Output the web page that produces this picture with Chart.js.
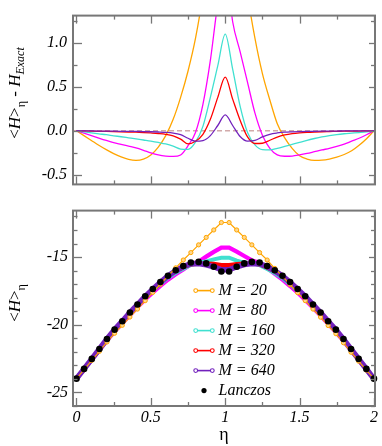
<!DOCTYPE html>
<html><head><meta charset="utf-8">
<script src="https://cdn.jsdelivr.net/npm/chart.js@4.4.0/dist/chart.umd.min.js"></script>
<style>
html,body{margin:0;padding:0;background:#fff;}
#wrap{position:relative;width:382px;height:446px;overflow:hidden;background:#fff;}
#c1{position:absolute;left:0;top:0;}
#c2{position:absolute;left:0;top:196px;}
</style></head><body>
<div id="wrap">
<canvas id="c1" width="382" height="200" style="width:382px;height:200px"></canvas>
<canvas id="c2" width="382" height="250" style="width:382px;height:250px"></canvas>
</div>
<script>
// ---------- data ----------
const seriesLabels = ['M = 20', 'M = 80', 'M = 160', 'M = 320', 'M = 640'];
const lanczosLabel = 'Lanczos';

// top panel: <H>_eta - H_exact
const etaTop = [0,0.05,0.1,0.15,0.2,0.25,0.3,0.35,0.4,0.45,0.5,0.55,0.6,0.65,0.7,0.75,0.8,0.85,0.9,0.95,1.0,
  1.05,1.1,1.15,1.2,1.25,1.3,1.35,1.4,1.45,1.5,1.55,1.6,1.65,1.7,1.75,1.8,1.85,1.9,1.95,2.0];
const diffM20 = [0,-0.055,-0.11,-0.165,-0.215,-0.26,-0.297,-0.325,-0.336,-0.322,-0.275,-0.185,-0.055,0.13,0.38,0.68,1.05,1.55,2.2,3.0,3.7,
  3.0,2.2,1.55,1.05,0.65,0.35,0.08,-0.08,-0.2,-0.285,-0.322,-0.337,-0.335,-0.322,-0.3,-0.27,-0.228,-0.165,-0.09,0];
const diffM80 = [0,-0.028,-0.055,-0.083,-0.11,-0.135,-0.155,-0.175,-0.195,-0.222,-0.252,-0.275,-0.288,-0.292,-0.275,-0.17,-0.02,0.3,0.8,1.45,1.9,
  1.24,0.9,0.55,0.2,-0.05,-0.2,-0.275,-0.29,-0.288,-0.275,-0.258,-0.238,-0.218,-0.2,-0.178,-0.152,-0.118,-0.085,-0.045,0];
const diffM160 = [0,-0.012,-0.024,-0.035,-0.045,-0.057,-0.068,-0.08,-0.092,-0.105,-0.118,-0.133,-0.15,-0.175,-0.208,-0.212,-0.13,0.05,0.38,0.74,1.1,
  0.7,0.28,-0.02,-0.16,-0.215,-0.218,-0.2,-0.178,-0.155,-0.132,-0.108,-0.088,-0.07,-0.055,-0.043,-0.034,-0.027,-0.02,-0.012,0];
const diffM320 = [0,-0.002,-0.004,-0.006,-0.008,-0.01,-0.012,-0.014,-0.016,-0.02,-0.025,-0.031,-0.04,-0.058,-0.095,-0.15,-0.12,-0.04,0.13,0.38,0.61,
  0.36,0.12,-0.07,-0.145,-0.142,-0.108,-0.072,-0.048,-0.033,-0.024,-0.018,-0.014,-0.011,-0.009,-0.007,-0.005,-0.004,-0.003,-0.001,0];
const diffM640 = [0,-0.001,-0.002,-0.003,-0.004,-0.005,-0.006,-0.007,-0.008,-0.009,-0.011,-0.014,-0.018,-0.026,-0.045,-0.085,-0.118,-0.112,-0.055,0.06,0.18,
  0.06,-0.065,-0.118,-0.11,-0.07,-0.04,-0.025,-0.016,-0.012,-0.009,-0.007,-0.006,-0.005,-0.004,-0.003,-0.002,-0.002,-0.001,-0.001,0];

// bottom panel: <H>_eta
const etaBot = [0,0.051,0.103,0.154,0.205,0.256,0.308,0.359,0.41,0.462,0.513,0.564,0.615,0.667,0.718,0.769,0.821,0.872,0.923,0.974,
  1.026,1.077,1.128,1.179,1.231,1.282,1.333,1.385,1.436,1.487,1.538,1.59,1.641,1.692,1.744,1.795,1.846,1.897,1.949,2];
const lanczos = [-23.98,-23.26,-22.52,-21.79,-21.05,-20.36,-19.74,-19.10,-18.50,-17.90,-17.36,-16.85,-16.38,-15.98,-15.66,-15.40,-15.36,-15.47,-15.72,-16.07,
  -16.07,-15.72,-15.47,-15.36,-15.40,-15.66,-15.98,-16.38,-16.85,-17.36,-17.90,-18.50,-19.10,-19.74,-20.36,-21.05,-21.79,-22.52,-23.26,-23.98];
const botM20 = [-23.98,-23.32,-22.63,-21.96,-21.27,-20.63,-20.04,-19.43,-18.84,-18.22,-17.61,-17.01,-16.40,-15.80,-15.22,-14.67,-14.10,-13.55,-13.00,-12.45,
  -12.45,-13.00,-13.55,-14.10,-14.67,-15.22,-15.84,-16.42,-17.03,-17.63,-18.22,-18.84,-19.44,-20.06,-20.66,-21.33,-22.03,-22.69,-23.35,-23.98];
const botM80 = [-23.98,-23.29,-22.58,-21.88,-21.16,-20.50,-19.90,-19.28,-18.70,-18.13,-17.62,-17.13,-16.67,-16.27,-15.92,-15.53,-15.34,-14.97,-14.62,-14.30,
  -14.30,-14.60,-14.92,-15.25,-15.42,-15.82,-16.24,-16.67,-17.14,-17.64,-18.16,-18.74,-19.32,-19.94,-20.54,-21.20,-21.90,-22.60,-23.30,-23.98];
const botM160 = [-23.98,-23.27,-22.54,-21.83,-21.10,-20.42,-19.81,-19.18,-18.59,-18.00,-17.48,-16.98,-16.53,-16.16,-15.87,-15.59,-15.41,-15.32,-15.17,-15.05,
  -15.05,-15.27,-15.41,-15.46,-15.60,-15.88,-16.18,-16.56,-17.00,-17.50,-18.01,-18.59,-19.17,-19.79,-20.40,-21.08,-21.81,-22.54,-23.27,-23.98];
const botM320 = [-23.98,-23.26,-22.53,-21.80,-21.06,-20.37,-19.75,-19.12,-18.52,-17.92,-17.39,-16.88,-16.42,-16.04,-15.76,-15.55,-15.49,-15.47,-15.50,-15.59,
  -15.59,-15.52,-15.47,-15.48,-15.55,-15.78,-16.06,-16.43,-16.89,-17.39,-17.92,-18.51,-19.11,-19.75,-20.37,-21.06,-21.80,-22.53,-23.26,-23.98];
const botM640 = [-23.98,-23.26,-22.52,-21.79,-21.05,-20.36,-19.74,-19.10,-18.51,-17.91,-17.37,-16.86,-16.40,-16.01,-15.70,-15.49,-15.48,-15.57,-15.72,-15.94,
  -15.94,-15.72,-15.56,-15.48,-15.49,-15.70,-16.01,-16.40,-16.86,-17.37,-17.91,-18.51,-19.11,-19.75,-20.37,-21.06,-21.80,-22.53,-23.27,-23.99];

// ticks
const xTickValues = [0, 0.5, 1, 1.5, 2];
const xTickLabels = ['0', '0.5', '1', '1.5', '2'];
const xMinorTicks = [0.25, 0.75, 1.25, 1.75];
const topTickValues = [-0.5, 0, 0.5, 1.0];
const topTickLabels = ['-0.5', '0.0', '0.5', '1.0'];
const topMinorTicks = [-0.25, 0.25, 0.75, 1.25];
const botTickValues = [-25, -20, -15];
const botTickLabels = ['-25', '-20', '-15'];
const botMinorTicks = [-26, -24, -23, -22, -21, -19, -18, -17, -16, -14, -13, -12];

// axis ranges
const xMin = -0.0235, xMax = 2.007;
const topYMin = -0.61, topYMax = 1.31;
const botYMin = -26, botYMax = -11.57;

// ---------- styling ----------
const SERIF = "'Liberation Serif','Times New Roman',serif";
const colors = ['rgb(255,165,0)', 'rgb(255,0,255)', 'rgb(64,224,208)', 'rgb(255,0,0)', 'rgb(114,33,188)'];
const frameColor = '#777';
Chart.defaults.font.family = SERIF;
Chart.defaults.color = '#000';
const tickFont = { family: SERIF, size: 16, style: 'italic' };

function pts(xs, ys) { return xs.map((x, i) => ({ x: x, y: ys[i] })); }

function framePlugin(yMajor, yMinor) {
  return {
    id: 'frame',
    afterDatasetsDraw(chart) {
      const { ctx, chartArea: a, scales } = chart;
      const xs = scales.x, ys = scales.y;
      ctx.save();
      ctx.strokeStyle = frameColor;
      ctx.lineWidth = 1.3;
      const ln = (x1, y1, x2, y2) => { ctx.beginPath(); ctx.moveTo(x1, y1); ctx.lineTo(x2, y2); ctx.stroke(); };
      const xt = (v, len) => { const p = Math.round(xs.getPixelForValue(v)) + 0.5; ln(p, a.bottom, p, a.bottom - len); ln(p, a.top, p, a.top + len); };
      const yt = (v, len, rlen) => { const p = Math.round(ys.getPixelForValue(v)) + 0.5; ln(a.left, p, a.left + len, p); ln(a.right, p, a.right - rlen, p); };
      xTickValues.forEach(v => xt(v, 8));
      xMinorTicks.forEach(v => xt(v, 4));
      yMajor.forEach(v => yt(v, 9, 6));
      yMinor.forEach(v => yt(v, 4.5, 4));
      ctx.lineWidth = 2;
      ctx.strokeRect(a.left, a.top, a.right - a.left, a.bottom - a.top);
      ctx.restore();
    }
  };
}

function yTitlePlugin(segments, baseX, centerY) {
  return {
    id: 'ytitle',
    afterDraw(chart) {
      const ctx = chart.ctx;
      ctx.save();
      ctx.translate(baseX, centerY);
      ctx.rotate(-Math.PI / 2);
      ctx.fillStyle = '#000';
      ctx.textBaseline = 'alphabetic';
      let total = 0;
      segments.forEach(s => { ctx.font = s.f; s.w = ctx.measureText(s.t).width; total += s.w; });
      let x = -total / 2;
      segments.forEach(s => { ctx.font = s.f; ctx.fillText(s.t, x, s.dy || 0); x += s.w; });
      ctx.restore();
    }
  };
}

const legendPlugin = {
  id: 'mlegend',
  afterDraw(chart) {
    const { ctx, chartArea: a } = chart;
    ctx.save();
    const x0 = a.left + 122.7, x1 = a.left + 139.3, tx = a.left + 145.5;
    let y = a.top + 80;
    ctx.font = 'italic 16px ' + SERIF;
    ctx.textBaseline = 'middle';
    seriesLabels.forEach((lab, i) => {
      ctx.strokeStyle = colors[i];
      ctx.lineWidth = 1.6;
      ctx.beginPath(); ctx.moveTo(x0, y); ctx.lineTo(x1, y); ctx.stroke();
      [x0, x1].forEach(cx => {
        ctx.beginPath(); ctx.arc(cx, y, 1.9, 0, Math.PI * 2);
        ctx.fillStyle = '#fff'; ctx.fill();
        ctx.lineWidth = 1.1; ctx.stroke();
      });
      ctx.fillStyle = '#000';
      ctx.fillText(lab, tx, y);
      y += 20;
    });
    ctx.fillStyle = '#000';
    ctx.beginPath(); ctx.arc((x0 + x1) / 2, y, 2.6, 0, Math.PI * 2); ctx.fill();
    ctx.fillText(lanczosLabel, tx, y);
    ctx.restore();
  }
};

// ---------- top chart ----------
const topDiffs = [diffM20, diffM80, diffM160, diffM320, diffM640];
const topSets = topDiffs.map((d, i) => ({
  label: seriesLabels[i], data: pts(etaTop, d), borderColor: colors[i], borderWidth: 1.3,
  pointRadius: 0, cubicInterpolationMode: 'monotone', order: 5 - i, clip: 0
}));
topSets.push({
  label: 'zero', data: [{ x: xMin, y: 0 }, { x: xMax, y: 0 }], borderColor: 'rgb(210,170,170)',
  borderDash: [5, 3], borderWidth: 1.6, pointRadius: 0, order: 10, clip: 0
});

new Chart(document.getElementById('c1'), {
  type: 'line',
  data: { datasets: topSets },
  options: {
    responsive: false, animation: false, devicePixelRatio: 1,
    layout: { padding: { top: 2, bottom: 6, right: 7, left: 0 } },
    plugins: { legend: { display: false }, tooltip: { enabled: false } },
    scales: {
      x: { type: 'linear', min: xMin, max: xMax, display: false },
      y: {
        type: 'linear', min: topYMin, max: topYMax,
        afterFit(s) { s.width = 73; },
        afterBuildTicks(s) { s.ticks = topTickValues.map(v => ({ value: v })); },
        grid: { display: false, drawTicks: false }, border: { display: false },
        ticks: { font: tickFont, padding: 6, color: '#000', callback: (v, i) => topTickLabels[i] }
      }
    }
  },
  plugins: [
    framePlugin(topTickValues, topMinorTicks),
    yTitlePlugin([
      { t: '<', f: '17px ' + SERIF }, { t: 'H', f: 'italic 17px ' + SERIF }, { t: '>', f: '17px ' + SERIF },
      { t: 'η', f: '12px ' + SERIF, dy: 5 }, { t: ' - ', f: '17px ' + SERIF },
      { t: 'H', f: 'italic 17px ' + SERIF }, { t: 'Exact', f: 'italic 12px ' + SERIF, dy: 4 }
    ], 20, 93)
  ]
});

// ---------- bottom chart ----------
const botVals = [botM20, botM80, botM160, botM320, botM640];
const botWidths = [1.2, 4.2, 4, 4, 5.5];
const botOrder = [1, 5, 4, 3, 2];
const botSets = botVals.map((d, i) => ({
  label: seriesLabels[i], data: pts(etaBot, d), borderColor: colors[i], borderWidth: botWidths[i],
  pointRadius: i === 0 ? 2.1 : 0, pointBorderWidth: 1, pointBorderColor: colors[i],
  pointBackgroundColor: 'rgb(255,215,140)', tension: 0, order: botOrder[i], clip: 0
}));
botSets.push({
  label: lanczosLabel, data: pts(etaBot, lanczos), showLine: false, pointRadius: 3.3,
  pointBackgroundColor: '#000', pointBorderColor: '#000', pointBorderWidth: 0, order: 0, clip: 4
});

new Chart(document.getElementById('c2'), {
  type: 'line',
  data: { datasets: botSets },
  options: {
    responsive: false, animation: false, devicePixelRatio: 1,
    layout: { padding: { top: 8, bottom: 0, right: 7, left: 0 } },
    plugins: { legend: { display: false }, tooltip: { enabled: false } },
    scales: {
      x: {
        type: 'linear', min: xMin, max: xMax,
        afterFit(s) { s.height = 40; },
        afterBuildTicks(s) { s.ticks = xTickValues.map(v => ({ value: v })); },
        grid: { display: false, drawTicks: false }, border: { display: false },
        ticks: { font: tickFont, padding: 2, color: '#000', maxRotation: 0, callback: (v, i) => xTickLabels[i] },
        title: { display: true, text: 'η', font: { family: SERIF, size: 18 }, color: '#000', padding: { top: 0, bottom: 0 } }
      },
      y: {
        type: 'linear', min: botYMin, max: botYMax,
        afterFit(s) { s.width = 73; },
        afterBuildTicks(s) { s.ticks = botTickValues.map(v => ({ value: v })); },
        grid: { display: false, drawTicks: false }, border: { display: false },
        ticks: { font: tickFont, padding: 5, color: '#000', callback: (v, i) => botTickLabels[i] }
      }
    }
  },
  plugins: [
    framePlugin(botTickValues, botMinorTicks),
    legendPlugin,
    yTitlePlugin([
      { t: '<', f: '17px ' + SERIF }, { t: 'H', f: 'italic 17px ' + SERIF }, { t: '>', f: '17px ' + SERIF },
      { t: 'η', f: '12px ' + SERIF, dy: 5 }
    ], 20, 107)
  ]
});
</script>
</body></html>
